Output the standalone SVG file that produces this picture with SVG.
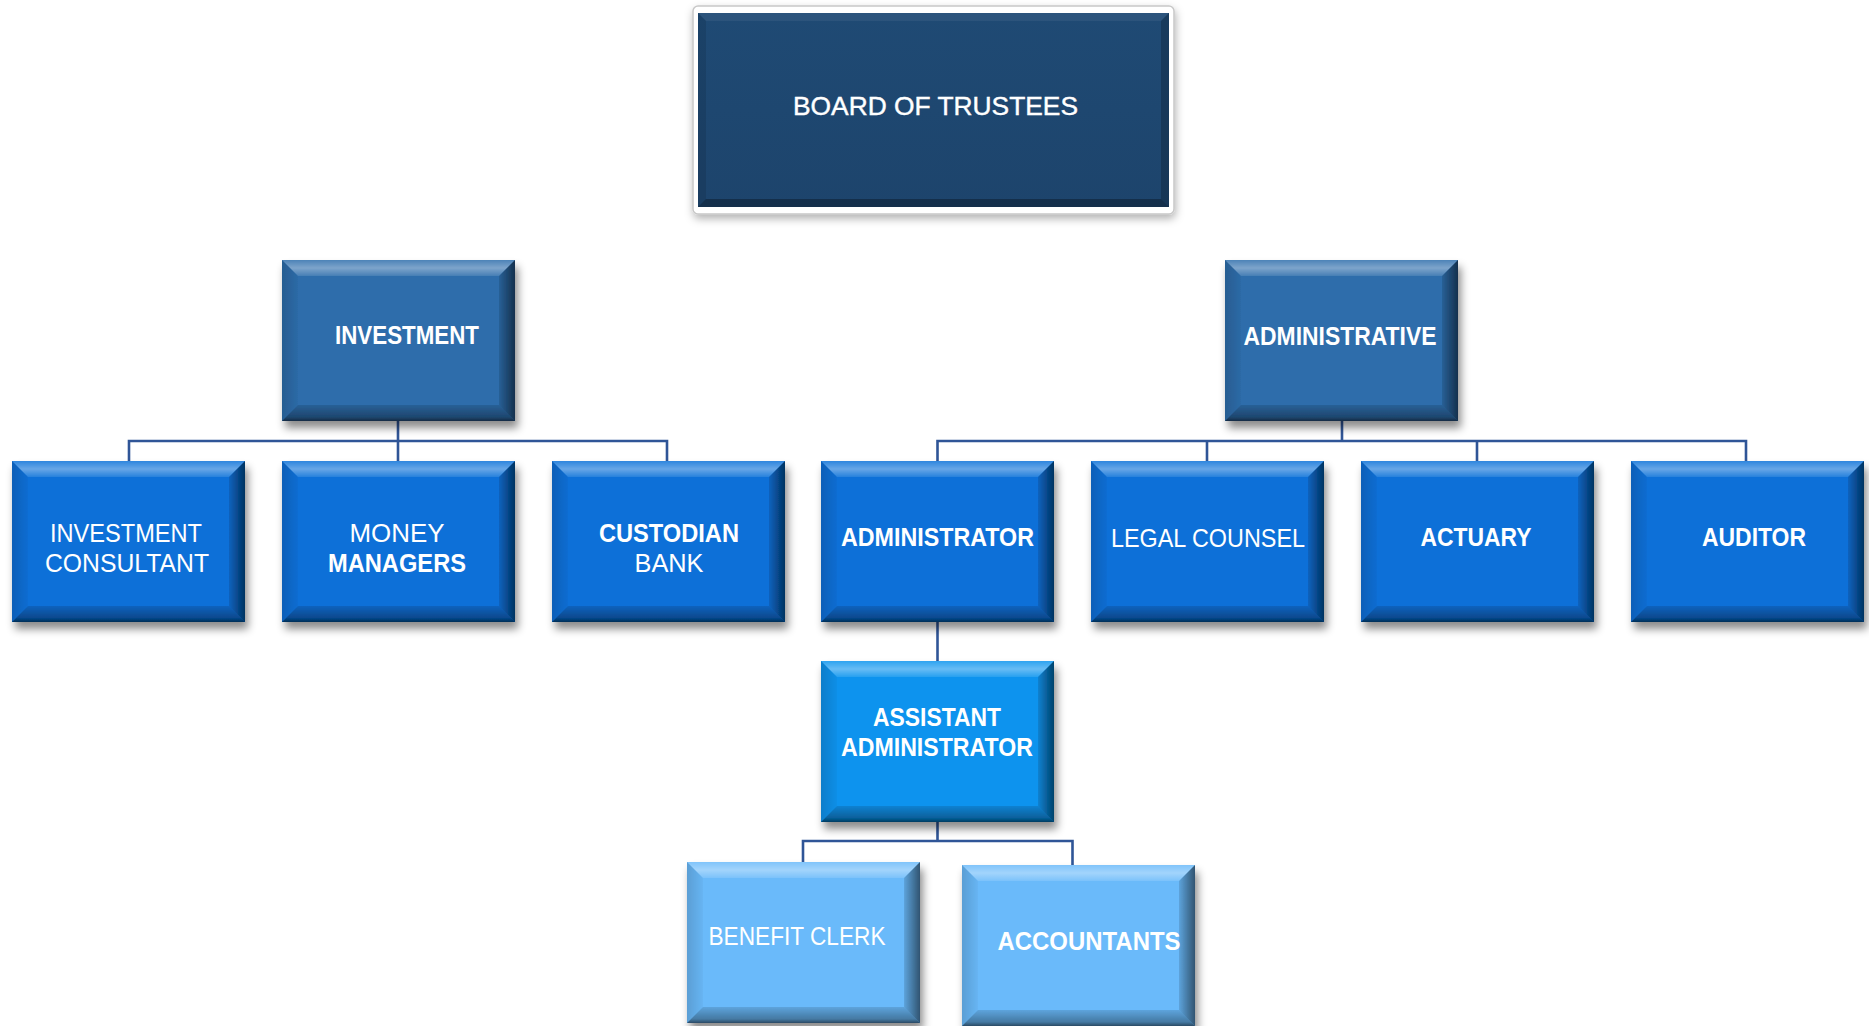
<svg xmlns="http://www.w3.org/2000/svg" xmlns:xlink="http://www.w3.org/1999/xlink" width="1869" height="1026" viewBox="0 0 1869 1026">
  <style>
    .lbl { font-family: "Liberation Sans", Arial, sans-serif; fill: #ffffff; text-anchor: middle; font-size: 25px; }
    .b { font-weight: bold; }
    .conn { fill: none; stroke: #2F5597; stroke-width: 2.6; }
  </style>
  <defs>
    <filter id="sh" x="-10%" y="-10%" width="125%" height="130%">
      <feDropShadow dx="3" dy="7" stdDeviation="4" flood-color="#000" flood-opacity="0.45"/>
    </filter>
    <filter id="sh2" x="-10%" y="-10%" width="120%" height="125%">
      <feDropShadow dx="1" dy="4" stdDeviation="4" flood-color="#000" flood-opacity="0.3"/>
    </filter>
    <linearGradient id="topg" x1="0" y1="0" x2="0" y2="1">
      <stop offset="0" stop-color="#fff" stop-opacity="0.15"/>
      <stop offset="0.5" stop-color="#fff" stop-opacity="0.38"/>
      <stop offset="1" stop-color="#fff" stop-opacity="0.12"/>
    </linearGradient>
    <linearGradient id="rightg" x1="0" y1="0" x2="1" y2="0">
      <stop offset="0" stop-color="#000" stop-opacity="0.12"/>
      <stop offset="1" stop-color="#000" stop-opacity="0.55"/>
    </linearGradient>
    <linearGradient id="botg" x1="0" y1="0" x2="0" y2="1">
      <stop offset="0" stop-color="#000" stop-opacity="0.12"/>
      <stop offset="0.75" stop-color="#000" stop-opacity="0.35"/>
      <stop offset="1" stop-color="#000" stop-opacity="0.6"/>
    </linearGradient>
    <linearGradient id="leftg" x1="0" y1="0" x2="1" y2="0">
      <stop offset="0" stop-color="#000" stop-opacity="0.15"/>
      <stop offset="1" stop-color="#000" stop-opacity="0.03"/>
    </linearGradient>
    <symbol id="bev" overflow="visible">
      <rect x="0" y="0" width="233" height="161"/>
      <polygon points="0,0 233,0 217,16 16,16" fill="url(#topg)"/>
      <polygon points="0,0 16,16 16,145 0,161" fill="url(#leftg)"/>
      <polygon points="233,0 233,161 217,145 217,16" fill="url(#rightg)"/>
      <polygon points="0,161 233,161 217,145 16,145" fill="url(#botg)"/>
    </symbol>
    <linearGradient id="boardg" x1="0" y1="0" x2="0" y2="1">
      <stop offset="0" stop-color="#1F4A74"/>
      <stop offset="1" stop-color="#1D446C"/>
    </linearGradient>
  </defs>

  <g id="connectors">
    <path class="conn" d="M398 421 V441 M129 461 V441 H667 V461 M398 441 V461"/>
    <path class="conn" d="M1342 421 V441 M937.5 461 V441 H1746 V461 M1207 441 V461 M1477 441 V461"/>
    <path class="conn" d="M937.5 621 V661"/>
    <path class="conn" d="M937.5 821 V841 M803 862 V841 H1072.5 V865"/>
  </g>

  <g id="board">
    <rect x="693" y="6" width="481" height="208" rx="5" fill="#ffffff" stroke="#c8c8c8" stroke-width="1.5" filter="url(#sh2)"/>
    <rect x="698" y="13" width="471" height="194" fill="url(#boardg)"/>
    <polygon points="698,13 1169,13 1161,21 706,21" fill="#ffffff" fill-opacity="0.06"/>
    <polygon points="1169,13 1169,207 1161,199 1161,21" fill="#000" fill-opacity="0.2"/>
    <polygon points="698,207 1169,207 1161,199 706,199" fill="#000" fill-opacity="0.3"/>
    <polygon points="698,13 706,21 706,199 698,207" fill="#000" fill-opacity="0.1"/>
    <text class="lbl" x="935.5" y="115" font-size="31" stroke="#ffffff" stroke-width="0.4" textLength="285" lengthAdjust="spacingAndGlyphs">BOARD OF TRUSTEES</text>
  </g>

  <g id="investment">
    <use xlink:href="#bev" x="282" y="260" fill="#2E6DAB" filter="url(#sh)"/>
    <text class="lbl b" x="407" y="344" textLength="144" lengthAdjust="spacingAndGlyphs">INVESTMENT</text>
  </g>
  <g id="administrative">
    <use xlink:href="#bev" x="1225" y="260" fill="#2E6DAB" filter="url(#sh)"/>
    <text class="lbl b" x="1340" y="345" textLength="193" lengthAdjust="spacingAndGlyphs">ADMINISTRATIVE</text>
  </g>

  <g id="investment-consultant">
    <use xlink:href="#bev" x="12" y="461" fill="#0A70D8" filter="url(#sh)"/>
    <text class="lbl" x="126" y="542" textLength="152" lengthAdjust="spacingAndGlyphs">INVESTMENT</text>
    <text class="lbl" x="127" y="572" textLength="164" lengthAdjust="spacingAndGlyphs">CONSULTANT</text>
  </g>
  <g id="money-managers">
    <use xlink:href="#bev" x="282" y="461" fill="#0A70D8" filter="url(#sh)"/>
    <text class="lbl" x="397" y="542" textLength="95" lengthAdjust="spacingAndGlyphs">MONEY</text>
    <text class="lbl b" x="397" y="572" textLength="138" lengthAdjust="spacingAndGlyphs">MANAGERS</text>
  </g>
  <g id="custodian-bank">
    <use xlink:href="#bev" x="552" y="461" fill="#0A70D8" filter="url(#sh)"/>
    <text class="lbl b" x="669" y="542" textLength="140" lengthAdjust="spacingAndGlyphs">CUSTODIAN</text>
    <text class="lbl" x="669" y="572" textLength="69" lengthAdjust="spacingAndGlyphs">BANK</text>
  </g>
  <g id="administrator">
    <use xlink:href="#bev" x="821" y="461" fill="#0A70D8" filter="url(#sh)"/>
    <text class="lbl b" x="937.5" y="546" textLength="193" lengthAdjust="spacingAndGlyphs">ADMINISTRATOR</text>
  </g>
  <g id="legal-counsel">
    <use xlink:href="#bev" x="1091" y="461" fill="#0A70D8" filter="url(#sh)"/>
    <text class="lbl" x="1208" y="547" textLength="194" lengthAdjust="spacingAndGlyphs">LEGAL COUNSEL</text>
  </g>
  <g id="actuary">
    <use xlink:href="#bev" x="1361" y="461" fill="#0A70D8" filter="url(#sh)"/>
    <text class="lbl b" x="1476" y="546" textLength="111" lengthAdjust="spacingAndGlyphs">ACTUARY</text>
  </g>
  <g id="auditor">
    <use xlink:href="#bev" x="1631" y="461" fill="#0A70D8" filter="url(#sh)"/>
    <text class="lbl b" x="1754" y="546" textLength="104" lengthAdjust="spacingAndGlyphs">AUDITOR</text>
  </g>

  <g id="assistant-administrator">
    <use xlink:href="#bev" x="821" y="661" fill="#0A93EE" filter="url(#sh)"/>
    <text class="lbl b" x="937" y="726" textLength="128" lengthAdjust="spacingAndGlyphs">ASSISTANT</text>
    <text class="lbl b" x="937" y="756" textLength="192" lengthAdjust="spacingAndGlyphs">ADMINISTRATOR</text>
  </g>

  <g id="benefit-clerk">
    <use xlink:href="#bev" x="687" y="862" fill="#6ABAFA" filter="url(#sh)"/>
    <text class="lbl" x="797" y="945" textLength="177" lengthAdjust="spacingAndGlyphs">BENEFIT CLERK</text>
  </g>
  <g id="accountants">
    <use xlink:href="#bev" x="962" y="865" fill="#6ABAFA" filter="url(#sh)"/>
    <text class="lbl b" x="1089" y="950" textLength="183" lengthAdjust="spacingAndGlyphs">ACCOUNTANTS</text>
  </g>
</svg>
